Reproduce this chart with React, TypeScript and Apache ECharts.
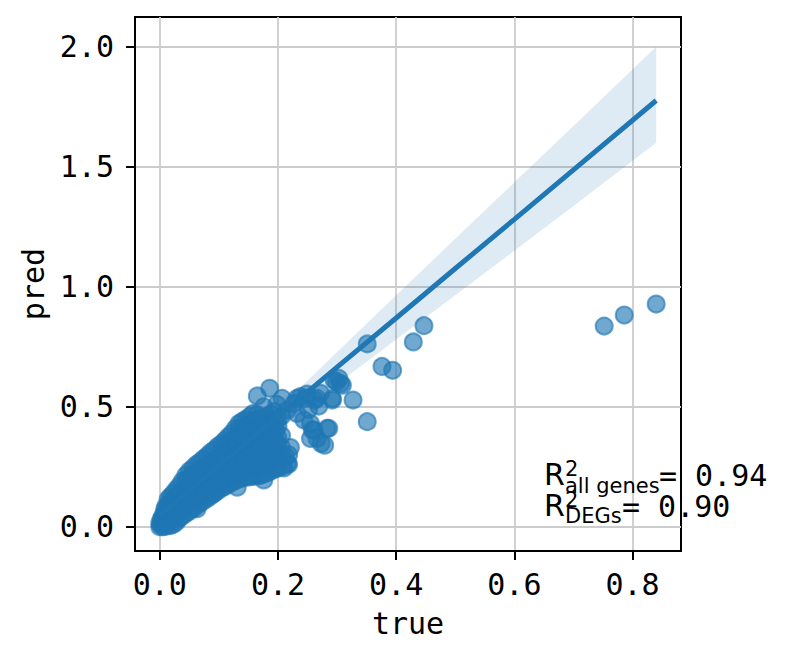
import React, { useEffect, useRef } from "react";
import * as echarts from "echarts";

// Axis ticks
const xTicks = [0, 0.2, 0.4, 0.6, 0.8];
const yTicks = [0, 0.5, 1.0, 1.5, 2.0];

// Regression fit and its confidence band
const fitX = [0, 0.1, 0.2, 0.3, 0.4, 0.5, 0.6, 0.7, 0.84];
const fitY = [0.048, 0.254, 0.459, 0.665, 0.87, 1.076, 1.281, 1.487, 1.776];
const ciUpper = [0.058, 0.268, 0.49, 0.728, 0.965, 1.2, 1.435, 1.67, 2.0];
const ciLower = [0.04, 0.242, 0.425, 0.595, 0.78, 0.965, 1.15, 1.337, 1.6];

// (true, pred) pairs – dense cloud of genes
const cloudPairs: [number, number][] = [
  [0.0, 0.0], [0.0, 0.015],
  [0.002, 0.01], [0.002, 0.03],
  [0.005, 0.0], [0.005, 0.025], [0.005, 0.045],
  [0.008, 0.015], [0.008, 0.045], [0.008, 0.07],
  [0.01, 0.002], [0.01, 0.03], [0.01, 0.06], [0.01, 0.084],
  [0.014, 0.02], [0.014, 0.055], [0.014, 0.09], [0.014, 0.115],
  [0.018, 0.005], [0.018, 0.04], [0.018, 0.075], [0.018, 0.105], [0.018, 0.126],
  [0.023, 0.01], [0.023, 0.04], [0.023, 0.075], [0.023, 0.108], [0.023, 0.14],
  [0.028, 0.02], [0.028, 0.055], [0.028, 0.09], [0.028, 0.125], [0.028, 0.155],
  [0.033, 0.035], [0.033, 0.07], [0.033, 0.1], [0.033, 0.135], [0.033, 0.17],
  [0.038, 0.045], [0.038, 0.08], [0.038, 0.115], [0.038, 0.15], [0.038, 0.19],
  [0.044, 0.055], [0.044, 0.09], [0.044, 0.125], [0.044, 0.16], [0.044, 0.195], [0.044, 0.215],
  [0.05, 0.065], [0.05, 0.1], [0.05, 0.135], [0.05, 0.17], [0.05, 0.205], [0.05, 0.232],
  [0.056, 0.075], [0.056, 0.11], [0.056, 0.145], [0.056, 0.18], [0.056, 0.215], [0.056, 0.245],
  [0.062, 0.088], [0.062, 0.12], [0.062, 0.155], [0.062, 0.19], [0.062, 0.225], [0.062, 0.26],
  [0.068, 0.098], [0.068, 0.13], [0.068, 0.165], [0.068, 0.2], [0.068, 0.235], [0.068, 0.27],
  [0.074, 0.108], [0.074, 0.14], [0.074, 0.175], [0.074, 0.21], [0.074, 0.245], [0.074, 0.283],
  [0.08, 0.118], [0.08, 0.15], [0.08, 0.185], [0.08, 0.22], [0.08, 0.255], [0.08, 0.295],
  [0.086, 0.128], [0.086, 0.16], [0.086, 0.195], [0.086, 0.23], [0.086, 0.265], [0.086, 0.31],
  [0.092, 0.14], [0.092, 0.17], [0.092, 0.205], [0.092, 0.24], [0.092, 0.275], [0.092, 0.32],
  [0.098, 0.15], [0.098, 0.18], [0.098, 0.215], [0.098, 0.25], [0.098, 0.285], [0.098, 0.335],
  [0.104, 0.16], [0.104, 0.19], [0.104, 0.225], [0.104, 0.26], [0.104, 0.295], [0.104, 0.345],
  [0.11, 0.168], [0.11, 0.2], [0.11, 0.235], [0.11, 0.27], [0.11, 0.305], [0.11, 0.34], [0.11, 0.36],
  [0.116, 0.176], [0.116, 0.21], [0.116, 0.245], [0.116, 0.28], [0.116, 0.315], [0.116, 0.35], [0.116, 0.375],
  [0.122, 0.185], [0.122, 0.22], [0.122, 0.255], [0.122, 0.29], [0.122, 0.325], [0.122, 0.36], [0.122, 0.39],
  [0.128, 0.192], [0.128, 0.228], [0.128, 0.262], [0.128, 0.298], [0.128, 0.332], [0.128, 0.368], [0.128, 0.41],
  [0.134, 0.2], [0.134, 0.235], [0.134, 0.27], [0.134, 0.305], [0.134, 0.34], [0.134, 0.375], [0.134, 0.41], [0.134, 0.43],
  [0.14, 0.203], [0.14, 0.24], [0.14, 0.278], [0.14, 0.312], [0.14, 0.348], [0.14, 0.383], [0.14, 0.415], [0.14, 0.44],
  [0.146, 0.207], [0.146, 0.245], [0.146, 0.285], [0.146, 0.32], [0.146, 0.355], [0.146, 0.39], [0.146, 0.42], [0.146, 0.448],
  [0.152, 0.208], [0.152, 0.248], [0.152, 0.288], [0.152, 0.325], [0.152, 0.362], [0.152, 0.398], [0.152, 0.43], [0.152, 0.46],
  [0.158, 0.21], [0.158, 0.25], [0.158, 0.29], [0.158, 0.33], [0.158, 0.37], [0.158, 0.405], [0.158, 0.44], [0.158, 0.472],
  [0.164, 0.212], [0.164, 0.252], [0.164, 0.292], [0.164, 0.332], [0.164, 0.372], [0.164, 0.41], [0.164, 0.445], [0.164, 0.468],
  [0.17, 0.213], [0.17, 0.255], [0.17, 0.295], [0.17, 0.335], [0.17, 0.375], [0.17, 0.415], [0.17, 0.45],
  [0.176, 0.22], [0.176, 0.26], [0.176, 0.3], [0.176, 0.34], [0.176, 0.38], [0.176, 0.42], [0.176, 0.455],
  [0.182, 0.225], [0.182, 0.265], [0.182, 0.305], [0.182, 0.345], [0.182, 0.385], [0.182, 0.425], [0.182, 0.46],
  [0.188, 0.232], [0.188, 0.272], [0.188, 0.312], [0.188, 0.352], [0.188, 0.392], [0.188, 0.432], [0.188, 0.47],
  [0.194, 0.24], [0.194, 0.28], [0.194, 0.32], [0.194, 0.36], [0.194, 0.4], [0.194, 0.44], [0.194, 0.48],
  [0.2, 0.245], [0.2, 0.285], [0.2, 0.325], [0.2, 0.37], [0.2, 0.42], [0.2, 0.45],
  [0.206, 0.25], [0.206, 0.29], [0.206, 0.33], [0.206, 0.38], [0.206, 0.46],
  [0.218, 0.26], [0.218, 0.3],
  [0.213, 0.292], [0.216, 0.264], [0.21, 0.245], [0.199, 0.347], [0.196, 0.4], [0.221, 0.33],
  [0.176, 0.195], [0.131, 0.165], [0.091, 0.139], [0.063, 0.075],
];

// (true, pred) pairs – scattered genes outside the cloud
const outlierPairs: [number, number][] = [
  [0.165, 0.545], [0.186, 0.577], [0.176, 0.5], [0.207, 0.535], [0.198, 0.51],
  [0.216, 0.486], [0.227, 0.514], [0.232, 0.535], [0.232, 0.472], [0.244, 0.445],
  [0.238, 0.542], [0.249, 0.553], [0.255, 0.43], [0.252, 0.49], [0.262, 0.528],
  [0.266, 0.535], [0.272, 0.556], [0.269, 0.503], [0.247, 0.535], [0.258, 0.403],
  [0.266, 0.368], [0.255, 0.368], [0.261, 0.403], [0.273, 0.347], [0.279, 0.34],
  [0.283, 0.41], [0.286, 0.41], [0.292, 0.535], [0.292, 0.528], [0.295, 0.611],
  [0.306, 0.597], [0.303, 0.618], [0.299, 0.604], [0.309, 0.59], [0.327, 0.528],
  [0.351, 0.438], [0.351, 0.762], [0.376, 0.668], [0.394, 0.652], [0.429, 0.77],
  [0.447, 0.838], [0.752, 0.836], [0.786, 0.882], [0.84, 0.928],
];

const r2AllGenes = "0.94";
const r2DEGs = "0.90";

const BLUE = "#1f77b4";
const MONO = "DejaVu Sans Mono";
const SANS = "DejaVu Sans";

export default function App() {
  const ref = useRef<HTMLDivElement>(null);

  useEffect(() => {
    document.body.style.margin = "0";
    if (!ref.current) return;
    const chart = echarts.init(ref.current, undefined, { renderer: "svg" });

    const txt = (x: number, y: number, text: string, size: number, family: string) => ({
      type: "text",
      x,
      y,
      silent: true,
      z: 100,
      style: {
        text,
        fontSize: size,
        fontFamily: family,
        fill: "#000",
        align: "left",
        verticalAlign: "middle",
      },
    });

    const option: any = {
      animation: false,
      backgroundColor: "#ffffff",
      grid: {
        left: 135,
        top: 17,
        right: 112,
        bottom: 109,
        show: true,
        borderColor: "#000",
        borderWidth: 2,
        backgroundColor: "transparent",
      },
      xAxis: {
        type: "value",
        min: -0.042,
        max: 0.882,
        axisLine: { show: true, onZero: false, lineStyle: { color: "#000", width: 2 } },
        axisTick: {
          show: true,
          length: 9,
          customValues: xTicks,
          lineStyle: { color: "#000", width: 2 },
        },
        axisLabel: {
          customValues: xTicks,
          formatter: (v: number) => v.toFixed(1),
          fontFamily: MONO,
          fontSize: 30,
          color: "#000",
          margin: 18,
        },
        splitLine: { show: true, lineStyle: { color: "#cccccc", width: 1.8 } },
        name: "true",
        nameLocation: "middle",
        nameGap: 72,
        nameTextStyle: { fontFamily: MONO, fontSize: 30, color: "#000", verticalAlign: "middle" },
      },
      yAxis: {
        type: "value",
        min: -0.101,
        max: 2.124,
        axisLine: { show: true, onZero: false, lineStyle: { color: "#000", width: 2 } },
        axisTick: {
          show: true,
          length: 9,
          customValues: yTicks,
          lineStyle: { color: "#000", width: 2 },
        },
        axisLabel: {
          customValues: yTicks,
          formatter: (v: number) => v.toFixed(1),
          fontFamily: MONO,
          fontSize: 30,
          color: "#000",
          margin: 21,
        },
        splitLine: { show: true, lineStyle: { color: "#cccccc", width: 1.8 } },
        name: "pred",
        nameLocation: "middle",
        nameGap: 100,
        nameRotate: 90,
        nameTextStyle: { fontFamily: MONO, fontSize: 30, color: "#000", verticalAlign: "middle" },
      },
      series: [
        {
          type: "scatter",
          data: [...cloudPairs, ...outlierPairs],
          symbol: "circle",
          symbolSize: 17,
          z: 2,
          itemStyle: {
            color: "rgba(31,119,180,0.8)",
            borderColor: "rgba(31,119,180,0.8)",
            borderWidth: 2,
          },
          silent: true,
        },
        {
          type: "custom",
          data: [[0, 0]],
          z: 3,
          silent: true,
          renderItem: (_params: any, api: any) => {
            const pts: number[][] = [];
            for (let i = 0; i < fitX.length; i++) pts.push(api.coord([fitX[i], ciUpper[i]]));
            for (let i = fitX.length - 1; i >= 0; i--) pts.push(api.coord([fitX[i], ciLower[i]]));
            return {
              type: "polygon",
              shape: { points: pts },
              style: { fill: "rgba(31,119,180,0.15)", stroke: "none" },
            };
          },
        },
        {
          type: "line",
          data: fitX.map((x, i) => [x, fitY[i]]),
          showSymbol: false,
          z: 4,
          silent: true,
          lineStyle: { color: BLUE, width: 5 },
        },
      ],
      graphic: [
        txt(544, 474.6, "R", 30, SANS),
        txt(565, 468.7, "2", 21, SANS),
        txt(565, 485.7, "all genes", 21, SANS),
        txt(659, 475.6, "= " + r2AllGenes, 30, MONO),
        txt(544, 505.6, "R", 30, SANS),
        txt(565, 499.7, "2", 21, SANS),
        txt(565, 515.7, "DEGs", 21, SANS),
        txt(622, 506.6, "= " + r2DEGs, 30, MONO),
      ],
    };

    chart.setOption(option);
    return () => chart.dispose();
  }, []);

  return <div ref={ref} style={{ width: 793, height: 660 }} />;
}
